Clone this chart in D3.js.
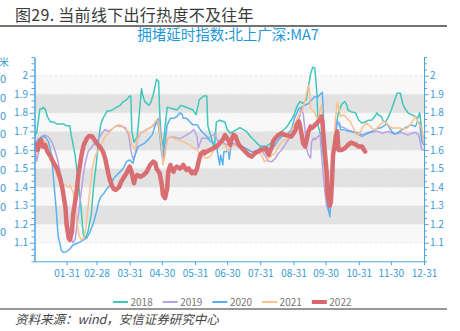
<!DOCTYPE html>
<html><head><meta charset="utf-8">
<script src="https://cdn.jsdelivr.net/npm/d3@7"></script>
<style>
html,body{margin:0;padding:0;background:#fff;}
svg{display:block;}
text{font-family:"Noto Sans CJK SC","Noto Sans",sans-serif;}
</style></head><body>
<svg id="c" width="460" height="331"></svg>
<script>
const mainTitle = "图29. 当前线下出行热度不及往年";
const chartTitle = "拥堵延时指数:北上广深:MA7";
const sourceText = "资料来源：wind，安信证券研究中心";
const xTickLabels = ["01-31","02-28","03-31","04-30","05-31","06-30","07-31","08-31","09-30","10-31","11-30","12-31"];
const yTickValues = [1.1,1.2,1.3,1.4,1.5,1.6,1.7,1.8,1.9,2.0];
const yDomain = [1.0, 2.1];
const years = ["2018","2019","2020","2021","2022"];
const cutLabels = ["0","0","0","0","0","0","0","0","0"];

// [day of year, value]
const s2018 = [[0,1.68],[2,1.69],[5,1.82],[7,1.82],[8,1.83],[10,1.82],[12,1.78],[15,1.75],[18,1.75],[21,1.74],[24,1.74],[27,1.74],[30,1.73],[33,1.73],[34,1.69],[36,1.63],[38,1.57],[40,1.47],[43,1.32],[45,1.18],[46,1.13],[48,1.13],[50,1.16],[53,1.25],[55,1.39],[58,1.54],[60,1.66],[62,1.74],[64,1.77],[68,1.81],[71,1.81],[74,1.82],[77,1.83],[80,1.84],[83,1.86],[86,1.87],[89,1.89],[90,1.89],[91,1.70],[93,1.64],[96,1.67],[98,1.80],[100,1.93],[101,1.90],[103,1.86],[107,1.84],[109,1.86],[111,1.90],[113,1.95],[114,1.98],[116,1.97],[117,1.80],[118,1.70],[120,1.60],[122,1.72],[124,1.83],[127,1.825],[130,1.82],[133,1.815],[137,1.84],[142,1.83],[148,1.815],[151,1.79],[154,1.87],[158,1.89],[161,1.89],[162,1.73],[165,1.67],[168,1.61],[170,1.75],[173,1.76],[178,1.75],[180,1.71],[183,1.69],[186,1.70],[192,1.72],[198,1.70],[202,1.67],[205,1.655],[208,1.635],[211,1.62],[217,1.62],[223,1.645],[229,1.69],[236,1.725],[242,1.78],[245,1.83],[248,1.86],[251,1.85],[254,1.87],[256,1.94],[258,2.01],[260,2.045],[262,2.04],[264,1.90],[265,1.73],[267,1.69],[269,1.62],[271,1.50],[273,1.40],[275,1.34],[277,1.42],[279,1.58],[281,1.70],[284,1.80],[287,1.845],[290,1.86],[292,1.84],[293,1.815],[296,1.805],[300,1.80],[303,1.76],[306,1.745],[309,1.75],[312,1.76],[315,1.76],[318,1.78],[320,1.80],[321,1.79],[324,1.78],[326,1.755],[328,1.75],[331,1.78],[334,1.825],[337,1.875],[339,1.905],[342,1.905],[344,1.85],[346,1.825],[349,1.80],[352,1.79],[356,1.78],[358,1.77],[360,1.80],[361,1.75],[362,1.70],[364,1.635]];

const s2019 = [[0,1.62],[1,1.59],[2,1.54],[4,1.59],[5,1.66],[7,1.675],[10,1.68],[13,1.67],[16,1.645],[19,1.60],[22,1.54],[25,1.43],[29,1.30],[32,1.18],[35,1.11],[36,1.10],[38,1.12],[41,1.25],[44,1.39],[47,1.52],[50,1.59],[54,1.62],[57,1.64],[60,1.66],[63,1.69],[66,1.71],[69,1.70],[72,1.71],[75,1.725],[78,1.73],[82,1.725],[85,1.72],[88,1.68],[90,1.60],[92,1.55],[94,1.57],[96,1.65],[99,1.69],[102,1.70],[105,1.71],[108,1.72],[111,1.73],[114,1.75],[116,1.77],[117,1.73],[119,1.63],[120,1.54],[122,1.59],[124,1.66],[127,1.67],[130,1.67],[133,1.665],[136,1.66],[139,1.67],[142,1.68],[145,1.69],[149,1.71],[152,1.67],[153,1.61],[155,1.64],[156,1.66],[158,1.665],[161,1.66],[164,1.67],[167,1.68],[169,1.69],[170,1.66],[172,1.645],[174,1.645],[177,1.636],[180,1.627],[184,1.636],[191,1.627],[197,1.609],[203,1.59],[209,1.60],[212,1.60],[216,1.564],[219,1.537],[222,1.537],[225,1.555],[228,1.582],[231,1.60],[234,1.627],[237,1.654],[240,1.672],[244,1.69],[247,1.753],[249,1.824],[251,1.798],[253,1.70],[254,1.61],[256,1.573],[258,1.555],[259,1.645],[261,1.663],[262,1.654],[265,1.672],[267,1.681],[268,1.59],[271,1.394],[273,1.30],[275,1.27],[276,1.27],[278,1.39],[279,1.573],[282,1.753],[284,1.735],[286,1.726],[289,1.72],[293,1.708],[300,1.69],[303,1.681],[306,1.672],[309,1.681],[312,1.69],[318,1.699],[321,1.70],[325,1.69],[328,1.695],[331,1.699],[334,1.69],[337,1.686],[340,1.69],[343,1.695],[346,1.686],[349,1.681],[353,1.69],[356,1.695],[359,1.681],[361,1.627],[362,1.60],[364,1.60]];

const s2020 = [[0,1.60],[1,1.62],[2,1.645],[4,1.66],[7,1.67],[10,1.67],[13,1.645],[16,1.57],[18,1.43],[20,1.30],[22,1.14],[25,1.06],[27,1.047],[30,1.052],[33,1.066],[36,1.088],[40,1.097],[43,1.106],[46,1.115],[49,1.127],[52,1.16],[55,1.205],[58,1.268],[60,1.32],[62,1.349],[65,1.367],[68,1.394],[71,1.41],[74,1.447],[77,1.465],[80,1.483],[83,1.50],[86,1.537],[89,1.546],[92,1.528],[94,1.573],[97,1.618],[100,1.627],[103,1.636],[106,1.654],[110,1.681],[113,1.735],[115,1.762],[117,1.681],[119,1.573],[120,1.555],[122,1.645],[124,1.735],[127,1.77],[130,1.77],[133,1.78],[136,1.80],[138,1.79],[139,1.77],[142,1.77],[145,1.753],[148,1.735],[152,1.735],[155,1.708],[158,1.69],[161,1.672],[164,1.649],[167,1.636],[170,1.627],[171,1.59],[173,1.519],[174,1.573],[176,1.519],[177,1.59],[179,1.59],[181,1.60],[182,1.55],[184,1.636],[187,1.627],[191,1.623],[194,1.618],[197,1.609],[200,1.60],[203,1.59],[206,1.59],[209,1.60],[212,1.618],[215,1.618],[219,1.609],[222,1.609],[225,1.627],[228,1.654],[231,1.672],[234,1.681],[237,1.69],[240,1.708],[243,1.77],[247,1.824],[250,1.83],[253,1.842],[256,1.85],[259,1.869],[262,1.887],[265,1.887],[268,1.905],[269,1.91],[270,1.789],[271,1.573],[274,1.30],[276,1.24],[277,1.322],[279,1.519],[281,1.663],[283,1.753],[285,1.744],[286,1.708],[289,1.708],[293,1.70],[296,1.699],[300,1.695],[303,1.69],[306,1.681],[309,1.685],[312,1.694],[315,1.70],[318,1.708],[321,1.717],[324,1.72],[328,1.735],[329,1.744],[331,1.726],[334,1.699],[337,1.685],[340,1.695],[343,1.708],[346,1.717],[349,1.726],[352,1.735],[356,1.726],[358,1.753],[360,1.744],[361,1.69],[362,1.645],[364,1.627]];

const s2021 = [[0,1.59],[1,1.58],[2,1.573],[4,1.645],[7,1.663],[10,1.645],[13,1.609],[16,1.555],[19,1.50],[22,1.447],[25,1.42],[29,1.41],[32,1.40],[33,1.41],[36,1.376],[38,1.286],[40,1.196],[42,1.133],[44,1.115],[46,1.124],[48,1.178],[50,1.286],[52,1.394],[54,1.50],[57,1.573],[60,1.60],[63,1.636],[66,1.672],[69,1.69],[72,1.708],[75,1.726],[78,1.735],[82,1.73],[85,1.708],[88,1.70],[91,1.627],[94,1.60],[96,1.66],[99,1.69],[102,1.699],[105,1.708],[108,1.717],[111,1.735],[114,1.762],[116,1.744],[117,1.699],[119,1.609],[120,1.519],[122,1.573],[124,1.654],[127,1.672],[130,1.663],[133,1.654],[136,1.649],[139,1.645],[142,1.636],[145,1.627],[148,1.613],[152,1.60],[155,1.573],[158,1.564],[161,1.555],[164,1.564],[167,1.591],[170,1.618],[173,1.636],[176,1.636],[179,1.62],[181,1.59],[184,1.627],[187,1.627],[191,1.618],[194,1.60],[197,1.591],[200,1.582],[203,1.573],[206,1.582],[209,1.591],[212,1.573],[215,1.537],[219,1.555],[222,1.573],[225,1.582],[228,1.618],[231,1.645],[234,1.654],[237,1.663],[240,1.699],[243,1.735],[247,1.789],[250,1.807],[253,1.87],[256,1.95],[257,1.923],[258,1.824],[261,1.807],[262,1.798],[264,1.771],[265,1.762],[267,1.815],[268,1.842],[270,1.717],[271,1.519],[273,1.358],[275,1.33],[276,1.35],[278,1.483],[281,1.753],[283,1.86],[286,1.78],[289,1.789],[292,1.771],[295,1.753],[298,1.717],[301,1.681],[304,1.69],[307,1.726],[310,1.744],[314,1.726],[317,1.708],[320,1.717],[323,1.735],[326,1.753],[329,1.744],[332,1.726],[335,1.717],[338,1.72],[342,1.717],[345,1.713],[348,1.717],[351,1.735],[354,1.762],[356,1.78],[358,1.753],[360,1.735],[362,1.717],[363,1.672],[364,1.636]];

const s2022 = [[0,1.636],[2,1.627],[3,1.60],[5,1.645],[6,1.654],[8,1.618],[10,1.627],[12,1.591],[15,1.564],[18,1.528],[21,1.50],[24,1.447],[26,1.394],[29,1.286],[30,1.196],[32,1.124],[33,1.115],[35,1.16],[36,1.25],[39,1.358],[41,1.465],[44,1.573],[46,1.627],[49,1.663],[51,1.675],[54,1.672],[56,1.654],[58,1.636],[61,1.618],[64,1.591],[66,1.555],[68,1.50],[70,1.447],[72,1.412],[74,1.39],[76,1.385],[79,1.40],[81,1.429],[83,1.447],[86,1.474],[88,1.50],[89,1.51],[91,1.474],[92,1.447],[93,1.42],[94,1.447],[96,1.465],[99,1.456],[102,1.465],[105,1.483],[108,1.519],[111,1.537],[113,1.528],[114,1.50],[116,1.483],[117,1.474],[119,1.412],[120,1.358],[122,1.34],[124,1.394],[125,1.483],[127,1.519],[128,1.492],[130,1.483],[131,1.50],[133,1.51],[136,1.50],[138,1.51],[139,1.519],[141,1.50],[142,1.492],[144,1.50],[145,1.492],[147,1.474],[148,1.483],[150,1.474],[152,1.50],[153,1.528],[155,1.573],[156,1.582],[158,1.591],[159,1.582],[161,1.591],[164,1.60],[167,1.609],[170,1.618],[173,1.636],[176,1.654],[178,1.68],[181,1.654],[183,1.627],[184,1.654],[186,1.681],[188,1.672],[189,1.654],[191,1.627],[194,1.609],[197,1.591],[200,1.573],[203,1.564],[206,1.582],[209,1.591],[212,1.60],[216,1.609],[217,1.591],[219,1.573],[220,1.591],[222,1.618],[223,1.645],[225,1.663],[228,1.681],[231,1.69],[234,1.681],[237,1.677],[240,1.672],[242,1.69],[244,1.708],[245,1.735],[247,1.753],[248,1.735],[250,1.672],[251,1.636],[253,1.618],[254,1.645],[256,1.699],[258,1.726],[259,1.717],[261,1.726],[262,1.735],[264,1.744],[265,1.753],[267,1.762],[268,1.78],[269,1.753],[271,1.609],[273,1.483],[274,1.358],[276,1.30],[277,1.32],[278,1.43],[279,1.573],[282,1.681],[283,1.70],[284,1.60],[287,1.60],[290,1.609],[293,1.627],[296,1.64],[300,1.63],[303,1.618],[306,1.618],[307,1.609],[309,1.591]];

const seriesList = [s2018, s2019, s2020, s2021, s2022];
const colors = ["#3ec7bb", "#b7a2e6", "#5cb0f0", "#fdc18e", "#d8676b"];
const widths = [1.5, 1.5, 1.5, 1.5, 4.5];

const svg = d3.select("#c");
const L = 34.5, R = 424, T = 57.1, B = 261.3;
const x = d3.scaleLinear().domain([0, 364]).range([L, R]);
const y = d3.scaleLinear().domain(yDomain).range([B, T]);
const axisColor = "#4ba4e0", labelColor = "#3b9ad5";

// titles
svg.append("text").attr("x", 15).attr("y", 21).attr("font-size", 16).attr("fill", "#3a3a3a").attr("letter-spacing", 0.3).text(mainTitle);
svg.append("line").attr("x1", 0).attr("x2", 447).attr("y1", 26).attr("y2", 26).attr("stroke", "#444").attr("stroke-width", 1.3);
svg.append("text").attr("x", 228).attr("y", 40).attr("text-anchor", "middle").attr("font-size", 14.5).attr("fill", "#1e97d7").text(chartTitle);

// cut-off fragments at the left edge
svg.append("text").attr("x", -1).attr("y", 66).attr("font-size", 10).attr("fill", labelColor).text("米");
const cutY = [79, 98, 116, 134, 153, 170, 188, 206.5, 232];
cutLabels.forEach((t, i) => svg.append("text").attr("x", 0).attr("y", cutY[i] + 4).attr("font-size", 11).attr("fill", labelColor).text(t));

// bands
const bands = yTickValues.slice(0, -1);
svg.append("g").selectAll("rect").data(bands).join("rect")
  .attr("x", L).attr("width", R - L)
  .attr("y", d => y(d + 0.1)).attr("height", d => y(d) - y(d + 0.1))
  .attr("fill", (d, i) => i % 2 === 0 ? "#f8f8f8" : "#e2e2e2");
svg.append("g").selectAll("line").data(yTickValues).join("line")
  .attr("x1", L).attr("x2", R).attr("y1", d => y(d)).attr("y2", d => y(d))
  .attr("stroke", "#e3e3e3").attr("stroke-dasharray", "3,2").attr("stroke-width", 0.8);

// clip
svg.append("clipPath").attr("id", "clip").append("rect").attr("x", L).attr("y", T).attr("width", R - L).attr("height", B - T);

const line = d3.line().x(d => x(d[0])).y(d => y(d[1]));
const gl = svg.append("g").attr("clip-path", "url(#clip)");
seriesList.forEach((s, i) => {
  gl.append("path").datum(s).attr("d", line).attr("fill", "none")
    .attr("stroke", colors[i]).attr("stroke-width", widths[i])
    .attr("stroke-linejoin", "round").attr("stroke-linecap", "round")
    .attr("opacity", i === 4 ? 0.95 : 1);
});

// y axes
const minor = d3.range(0, 34).map(k => +(yDomain[0] + k * 0.1 / 3).toFixed(4))
  .filter(v => v <= yDomain[1] + 1e-6 && !yTickValues.some(t => Math.abs(t - v) < 1e-3));
const fmt = d => d === 2 ? "2" : d3.format(".1f")(d);
function styleAxis(g) {
  g.selectAll("path,line").attr("stroke", axisColor);
  g.selectAll("text").attr("fill", labelColor).attr("font-size", 10).attr("font-family", '"Noto Sans CJK SC","Noto Sans",sans-serif');
}
const la = svg.append("g").attr("transform", `translate(${L},0)`)
  .call(d3.axisLeft(y).tickValues(yTickValues).tickFormat(fmt).tickSize(4.5).tickPadding(2).tickSizeOuter(0));
svg.append("g").attr("transform", `translate(${L},0)`)
  .call(d3.axisLeft(y).tickValues(minor).tickFormat("").tickSize(3).tickSizeOuter(0)).call(styleAxis);
styleAxis(la);
const ra = svg.append("g").attr("transform", `translate(${R},0)`)
  .call(d3.axisRight(y).tickValues(yTickValues).tickFormat(fmt).tickSize(4.5).tickPadding(1.5).tickSizeOuter(0));
svg.append("g").attr("transform", `translate(${R},0)`)
  .call(d3.axisRight(y).tickValues(minor).tickFormat("").tickSize(3).tickSizeOuter(0)).call(styleAxis);
styleAxis(ra);

// x axis
const jan1 = new Date(2021, 0, 1);
const tickDays = xTickLabels.map(l => d3.timeDay.count(jan1, d3.timeParse("%Y-%m-%d")("2021-" + l)));
const xa = svg.append("g").attr("transform", `translate(0,${B})`)
  .call(d3.axisBottom(x).tickValues(tickDays).tickFormat((d, i) => xTickLabels[i]).tickSize(4).tickPadding(5).tickSizeOuter(0));
styleAxis(xa);

// legend
let lx = 113;
const ly = 302;
years.forEach((yr, i) => {
  svg.append("line").attr("x1", lx).attr("x2", lx + 15).attr("y1", ly).attr("y2", ly)
    .attr("stroke", colors[i]).attr("stroke-width", i === 4 ? 4 : 2);
  const t = svg.append("text").attr("x", lx + 17.5).attr("y", ly + 3.5).attr("font-size", 10).attr("fill", "#777").text(yr);
  lx += 17.5 + t.node().getComputedTextLength() + 10;
});

// source
svg.append("line").attr("x1", 0).attr("x2", 447).attr("y1", 309).attr("y2", 309).attr("stroke", "#333").attr("stroke-width", 1.2);
svg.append("text").attr("x", 15).attr("y", 324).attr("font-size", 12.5).attr("font-style", "italic").attr("fill", "#444").text(sourceText);
</script>
</body></html>
